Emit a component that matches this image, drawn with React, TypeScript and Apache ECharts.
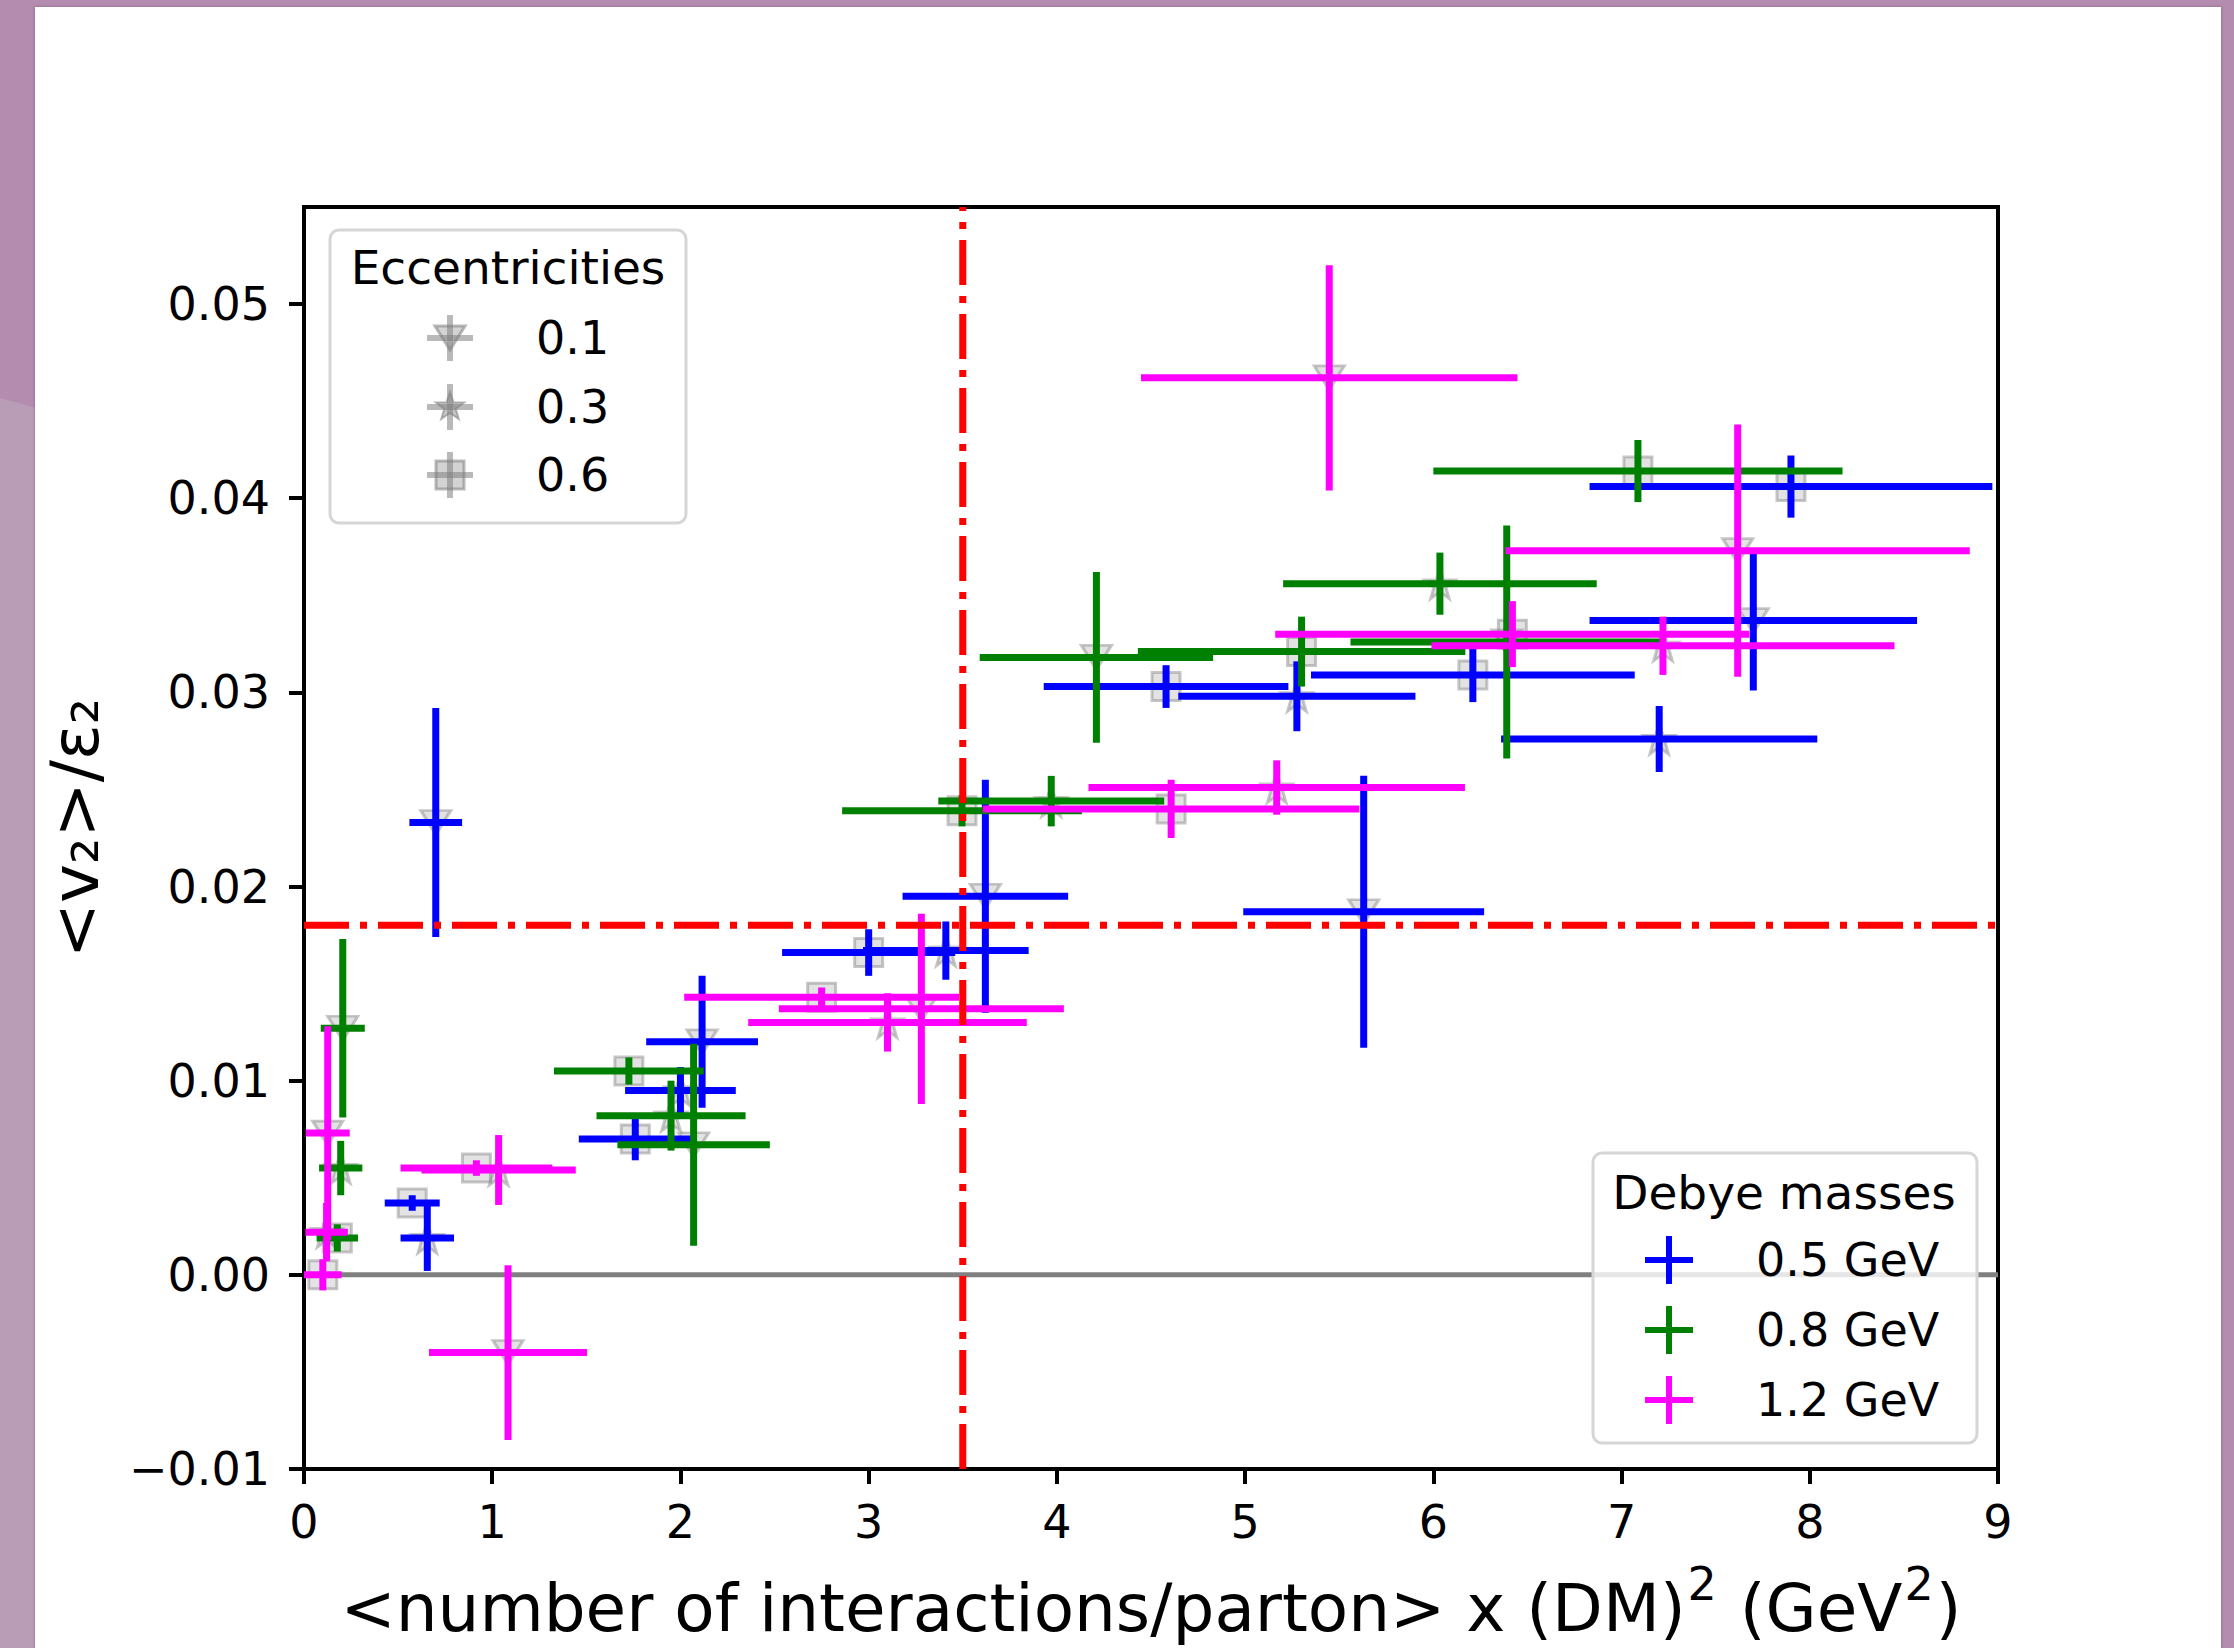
import React, { useEffect, useRef } from "react";
import * as echarts from "echarts";

// ---------- data ----------
const BLUE_X = [0.70, 0.575, 0.655, 1.76, 2.00, 2.115, 3.00, 3.41, 3.62, 4.58, 5.275, 5.63, 6.21, 7.20, 7.70, 7.90];
const BLUE_Y = [0.0233, 0.0037, 0.0019, 0.0070, 0.0095, 0.0120, 0.0166, 0.0167, 0.0195, 0.0303, 0.0298, 0.0187, 0.0309, 0.0276, 0.0337, 0.0406];
const BLUE_XERR = [0.14, 0.146, 0.142, 0.30, 0.294, 0.297, 0.46, 0.44, 0.44, 0.65, 0.63, 0.64, 0.86, 0.84, 0.87, 1.07];
const BLUE_YERR = [0.0059, 0.0004, 0.0017, 0.0011, 0.0012, 0.0034, 0.0012, 0.0015, 0.0060, 0.0011, 0.0018, 0.0070, 0.0014, 0.0017, 0.0036, 0.0016];
const BLUE_ECC = [0.1, 0.6, 0.3, 0.6, 0.3, 0.1, 0.6, 0.3, 0.1, 0.6, 0.3, 0.1, 0.6, 0.3, 0.1, 0.6];

const GREEN_X = [0.206, 0.195, 0.177, 1.726, 1.95, 2.07, 3.496, 3.97, 4.21, 5.30, 6.035, 6.39, 7.087];
const GREEN_Y = [0.0127, 0.0055, 0.0019, 0.0105, 0.0082, 0.0067, 0.0239, 0.0244, 0.0318, 0.0321, 0.0356, 0.0326, 0.0414];
const GREEN_XERR = [0.117, 0.115, 0.11, 0.398, 0.396, 0.405, 0.637, 0.60, 0.62, 0.87, 0.833, 0.83, 1.087];
const GREEN_YERR = [0.0046, 0.0014, 0.0007, 0.0007, 0.0018, 0.0052, 0.0008, 0.0013, 0.0044, 0.0018, 0.0016, 0.0060, 0.0016];
const GREEN_ECC = [0.1, 0.3, 0.6, 0.6, 0.3, 0.1, 0.6, 0.3, 0.1, 0.6, 0.3, 0.1, 0.6];

const MAGENTA_X = [0.126, 0.12, 0.10, 0.916, 1.034, 1.084, 2.75, 3.10, 3.28, 4.607, 5.168, 5.447, 6.42, 7.22, 7.617];
const MAGENTA_Y = [0.0073, 0.0022, 0.0, 0.0055, 0.0054, -0.0040, 0.0143, 0.0130, 0.0137, 0.0240, 0.0251, 0.0462, 0.0330, 0.0324, 0.0373];
const MAGENTA_XERR = [0.117, 0.113, 0.10, 0.403, 0.41, 0.42, 0.73, 0.74, 0.757, 1.0, 1.0, 1.0, 1.26, 1.23, 1.233];
const MAGENTA_YERR = [0.0055, 0.0015, 0.0008, 0.0004, 0.0018, 0.0045, 0.0005, 0.0015, 0.0049, 0.0015, 0.0014, 0.0058, 0.0017, 0.0015, 0.0065];
const MAGENTA_ECC = [0.1, 0.3, 0.6, 0.6, 0.3, 0.1, 0.6, 0.3, 0.1, 0.6, 0.3, 0.1, 0.6, 0.3, 0.1];

const DEBYE_LABELS = ["0.5 GeV", "0.8 GeV", "1.2 GeV"];
const ECC_LABELS = ["0.1", "0.3", "0.6"];
const ECC_VALUES = [0.1, 0.3, 0.6];
const X_TICKS = [0, 1, 2, 3, 4, 5, 6, 7, 8, 9];
const Y_TICKS = [-0.01, 0, 0.01, 0.02, 0.03, 0.04, 0.05];
const REF_X = 3.5;
const REF_Y = 0.018;

// ---------- styling ----------
const FONT = '"DejaVu Sans", "Liberation Sans", sans-serif';
const COLORS = ["#0000ff", "#008000", "#ff00ff"];
const GRAY_FILL = "rgba(128,128,128,0.28)";
const GRAY_STROKE = "rgba(128,128,128,0.55)";
const BAR_W = 7;
const STAR_PATH =
  "path://M0,-10 L2.35,-3.24 L9.51,-3.09 L3.8,1.24 L5.88,8.09 L0,4 L-5.88,8.09 L-3.8,1.24 L-9.51,-3.09 L-2.35,-3.24 Z";

const GROUPS = [
  { x: BLUE_X, y: BLUE_Y, xe: BLUE_XERR, ye: BLUE_YERR, ecc: BLUE_ECC },
  { x: GREEN_X, y: GREEN_Y, xe: GREEN_XERR, ye: GREEN_YERR, ecc: GREEN_ECC },
  { x: MAGENTA_X, y: MAGENTA_Y, xe: MAGENTA_XERR, ye: MAGENTA_YERR, ecc: MAGENTA_ECC },
];

function fmtY(v: number): string {
  const r = Math.round(v * 1000) / 1000;
  const isTick = Y_TICKS.some((t) => Math.abs(t - r) < 1e-9);
  if (!isTick) return "";
  const s = Math.abs(r).toFixed(2);
  return r < 0 ? "\u2212" + s : s;
}

function starPoints(cx: number, cy: number, R: number) {
  const pts: number[][] = [];
  const r = R * 0.4;
  for (let i = 0; i < 10; i++) {
    const a = -Math.PI / 2 + (i * Math.PI) / 5;
    const rr = i % 2 === 0 ? R : r;
    pts.push([cx + rr * Math.cos(a), cy + rr * Math.sin(a)]);
  }
  return pts;
}

function buildOption() {
  const series: any[] = [];

  // zero line
  series.push({
    type: "line",
    data: [
      [0, 0],
      [9, 0],
    ],
    symbol: "none",
    silent: true,
    lineStyle: { color: "#808080", width: 5 },
    z: 1,
  });

  // gray eccentricity markers
  const markerDefs = [
    { sym: "triangle", rot: 180, size: [30, 24] },
    { sym: STAR_PATH, rot: 0, size: 30 },
    { sym: "rect", rot: 0, size: 28 },
  ];
  ECC_VALUES.forEach((e, k) => {
    const pts: number[][] = [];
    GROUPS.forEach((g) => {
      g.x.forEach((xv, i) => {
        if (g.ecc[i] === e) pts.push([xv, g.y[i]]);
      });
    });
    series.push({
      type: "scatter",
      data: pts,
      symbol: markerDefs[k].sym,
      symbolRotate: markerDefs[k].rot,
      symbolSize: markerDefs[k].size,
      silent: true,
      itemStyle: { color: GRAY_FILL, borderColor: GRAY_STROKE, borderWidth: 3 },
      z: 2,
    });
  });

  // error bars per Debye mass
  GROUPS.forEach((g, k) => {
    const rows = g.x.map((xv, i) => [xv, g.y[i], g.xe[i], g.ye[i]]);
    const color = COLORS[k];
    series.push({
      type: "custom",
      data: rows,
      encode: { x: 0, y: 1 },
      clip: true,
      silent: true,
      z: 3 + k,
      renderItem: (params: any, api: any) => {
        const x = api.value(0);
        const y = api.value(1);
        const xe = api.value(2);
        const ye = api.value(3);
        const l = api.coord([x - xe, y]);
        const r = api.coord([x + xe, y]);
        const t = api.coord([x, y + ye]);
        const b = api.coord([x, y - ye]);
        return {
          type: "group",
          children: [
            {
              type: "line",
              shape: { x1: l[0], y1: l[1], x2: r[0], y2: r[1] },
              style: { stroke: color, lineWidth: BAR_W },
            },
            {
              type: "line",
              shape: { x1: t[0], y1: t[1], x2: b[0], y2: b[1] },
              style: { stroke: color, lineWidth: BAR_W },
            },
          ],
        };
      },
    });
  });

  // reference lines
  const dash = { color: "#ff0000", width: 7, type: [45, 11, 7, 11], cap: "butt" };
  series.push({
    type: "line",
    data: [
      [REF_X, -0.01],
      [REF_X, 0.055],
    ],
    symbol: "none",
    silent: true,
    lineStyle: dash,
    z: 8,
  });
  series.push({
    type: "line",
    data: [
      [0, REF_Y],
      [9, REF_Y],
    ],
    symbol: "none",
    silent: true,
    lineStyle: dash,
    z: 8,
  });

  // legends as graphics
  const graphic: any[] = [];
  // Eccentricities legend
  graphic.push({
    type: "rect",
    shape: { x: 330, y: 230, width: 356, height: 293, r: 9 },
    style: { fill: "rgba(255,255,255,0.8)", stroke: "#d6d6d6", lineWidth: 3 },
    z: 20,
  });
  graphic.push({
    type: "text",
    x: 508,
    y: 267,
    style: { text: "Eccentricities", font: `47px ${FONT}`, fill: "#000", align: "center", verticalAlign: "middle" },
    z: 21,
  });
  const eccRowsY = [338, 407, 475];
  ECC_LABELS.forEach((lab, i) => {
    const cy = eccRowsY[i];
    const cx = 450;
    graphic.push({ type: "line", shape: { x1: cx - 23, y1: cy, x2: cx + 23, y2: cy }, style: { stroke: GRAY_STROKE, lineWidth: 6 }, z: 21 });
    graphic.push({ type: "line", shape: { x1: cx, y1: cy - 23, x2: cx, y2: cy + 23 }, style: { stroke: GRAY_STROKE, lineWidth: 6 }, z: 21 });
    if (i === 0) {
      graphic.push({
        type: "polygon",
        shape: { points: [[cx - 15, cy - 12], [cx + 15, cy - 12], [cx, cy + 12]] },
        style: { fill: "rgba(128,128,128,0.35)", stroke: GRAY_STROKE, lineWidth: 3 },
        z: 22,
      });
    } else if (i === 1) {
      graphic.push({
        type: "polygon",
        shape: { points: starPoints(cx, cy, 15) },
        style: { fill: "rgba(128,128,128,0.45)", stroke: GRAY_STROKE, lineWidth: 2 },
        z: 22,
      });
    } else {
      graphic.push({
        type: "rect",
        shape: { x: cx - 14, y: cy - 14, width: 28, height: 28 },
        style: { fill: "rgba(128,128,128,0.35)", stroke: GRAY_STROKE, lineWidth: 3 },
        z: 22,
      });
    }
    graphic.push({
      type: "text",
      x: 536,
      y: cy,
      style: { text: lab, font: `46px ${FONT}`, fill: "#000", align: "left", verticalAlign: "middle" },
      z: 22,
    });
  });

  // Debye masses legend
  graphic.push({
    type: "rect",
    shape: { x: 1593, y: 1153, width: 384, height: 290, r: 9 },
    style: { fill: "rgba(255,255,255,0.8)", stroke: "#d6d6d6", lineWidth: 3 },
    z: 20,
  });
  graphic.push({
    type: "text",
    x: 1784,
    y: 1192,
    style: { text: "Debye masses", font: `47px ${FONT}`, fill: "#000", align: "center", verticalAlign: "middle" },
    z: 21,
  });
  const debRowsY = [1260, 1330, 1400];
  DEBYE_LABELS.forEach((lab, i) => {
    const cy = debRowsY[i];
    const cx = 1669;
    graphic.push({ type: "line", shape: { x1: cx - 24, y1: cy, x2: cx + 24, y2: cy }, style: { stroke: COLORS[i], lineWidth: 6 }, z: 21 });
    graphic.push({ type: "line", shape: { x1: cx, y1: cy - 24, x2: cx, y2: cy + 24 }, style: { stroke: COLORS[i], lineWidth: 6 }, z: 21 });
    graphic.push({
      type: "text",
      x: 1756,
      y: cy,
      style: { text: lab, font: `46px ${FONT}`, fill: "#000", align: "left", verticalAlign: "middle" },
      z: 22,
    });
  });

  return {
    animation: false,
    backgroundColor: "transparent",
    grid: {
      left: 304,
      top: 207,
      right: 236,
      bottom: 179,
      show: true,
      borderColor: "#000",
      borderWidth: 4,
      backgroundColor: "transparent",
      containLabel: false,
    },
    xAxis: {
      type: "value",
      min: 0,
      max: 9,
      interval: 1,
      name: "{n|<number of interactions/parton> x (DM)}{s|2}{n| (GeV}{s|2}{n|)}",
      nameLocation: "middle",
      nameGap: 92,
      nameTextStyle: {
        fontFamily: FONT,
        fontSize: 66,
        color: "#000",
        rich: {
          n: { fontFamily: FONT, fontSize: 66, color: "#000", lineHeight: 80, verticalAlign: "bottom" },
          s: { fontFamily: FONT, fontSize: 46, color: "#000", lineHeight: 80, verticalAlign: "top", padding: [0, 2, 30, 2] },
        },
      },
      axisLine: { show: true, onZero: false, lineStyle: { color: "#000", width: 4 } },
      axisTick: { show: true, length: 15, lineStyle: { color: "#000", width: 4 }, customValues: X_TICKS },
      axisLabel: { fontFamily: FONT, fontSize: 46, color: "#000", margin: 30, customValues: X_TICKS },
      splitLine: { show: false },
    },
    yAxis: {
      type: "value",
      min: -0.01,
      max: 0.055,
      interval: 0.01,
      name: "<v\u2082>/\u03b5\u2082",
      nameLocation: "middle",
      nameRotate: 90,
      nameGap: 196,
      nameTextStyle: { fontFamily: FONT, fontSize: 66, color: "#000", padding: [0, 0, 0, 20] },
      axisLine: { show: true, onZero: false, lineStyle: { color: "#000", width: 4 } },
      axisTick: { show: true, length: 15, lineStyle: { color: "#000", width: 4 }, customValues: Y_TICKS },
      axisLabel: { fontFamily: FONT, fontSize: 46, color: "#000", margin: 34, formatter: fmtY, customValues: Y_TICKS },
      splitLine: { show: false },
    },
    series,
    graphic,
  };
}

export default function App() {
  const ref = useRef<HTMLDivElement>(null);
  useEffect(() => {
    if (!ref.current) return;
    const chart = echarts.init(ref.current, undefined, { renderer: "svg" });
    chart.setOption(buildOption() as any);
    return () => chart.dispose();
  }, []);

  return (
    <div style={{ position: "fixed", left: 0, top: 0, width: 2234, height: 1648, background: "#b48cb0", overflow: "hidden" }}>
      <div
        style={{
          position: "absolute",
          left: 0,
          top: 0,
          width: 36,
          height: 1648,
          background: "#b99db7",
          clipPath: "polygon(0px 398px, 36px 408px, 36px 1648px, 0px 1648px)",
        }}
      />
      <div
        style={{
          position: "absolute",
          left: 35,
          top: 7,
          width: 2186,
          height: 1660,
          background: "#ffffff",
          boxShadow: "0 0 3px rgba(0,0,0,0.25)",
        }}
      />
      <div ref={ref} style={{ position: "absolute", left: 0, top: 0, width: 2234, height: 1648 }} />
    </div>
  );
}
